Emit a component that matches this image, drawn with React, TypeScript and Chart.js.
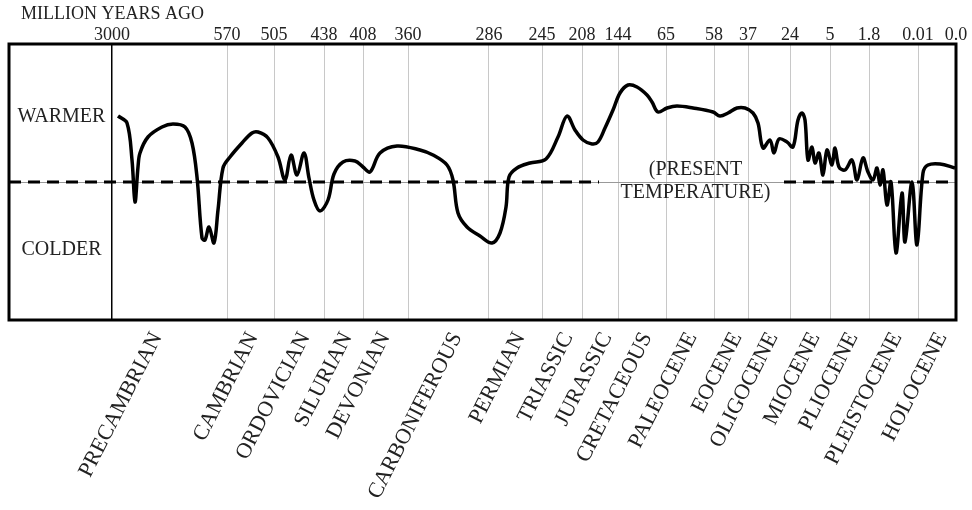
import { useEffect, useRef } from "react"
import { Chart, registerables } from "chart.js"

Chart.register(...registerables)

// Posición de cada límite sobre el eje (no lineal) y su edad en millones de años
const boundaryPos = [103, 218, 265, 315, 354, 399, 480, 533, 573, 609, 657, 705, 739, 781, 821, 860, 909, 947]
const ageLabels = ["3000", "570", "505", "438", "408", "360", "286", "245", "208", "144", "65", "58", "37", "24", "5", "1.8", "0.01", "0.0"]
const periodNames = [
  "PRECAMBRIAN", "CAMBRIAN", "ORDOVICIAN", "SILURIAN", "DEVONIAN", "CARBONIFEROUS", "PERMIAN",
  "TRIASSIC", "JURASSIC", "CRETACEOUS", "PALEOCENE", "EOCENE", "OLIGOCENE", "MIOCENE",
  "PLIOCENE", "PLEISTOCENE", "HOLOCENE",
]
// Dónde queda el final de cada nombre de periodo bajo el eje
const periodPos = [148, 244, 296, 338, 376, 448, 511, 559, 598, 638, 683, 728, 764, 806, 844, 888, 933]

// Curva de temperatura relativa (0 = temperatura actual)
const curveX = [
  109, 118, 123, 126, 129, 131, 139, 153, 164, 176, 183, 188, 193, 196, 200, 205, 209, 214, 221, 233,
  243, 249, 259, 269, 276, 282, 288, 295, 300, 305, 311, 319, 325, 334, 346, 354, 361, 371, 388, 411,
  424, 438, 444, 449, 458, 471, 483, 491, 497, 500, 508, 521, 537, 549, 558, 566, 574, 583, 589, 596,
  604, 611, 619, 628, 638, 643, 649, 658, 668, 684, 704, 711, 719, 728, 736, 744, 749, 754, 761, 765,
  770, 778, 784, 789, 793, 796, 799, 803, 806, 810, 814, 818, 823, 826, 830, 836, 843, 848, 854, 859,
  864, 868, 871, 874, 878, 882, 887, 893, 896, 903, 908, 914, 919, 931, 946,
]
const curveY = [
  66, 59, 22, -20, 15, 29, 45, 55, 58, 55, 39, 5, -56, -58, -45, -61, -28, 14, 25, 39,
  49, 50, 44, 25, 2, 27, 7, 29, 4, -18, -29, -18, 8, 20, 21, 15, 10, 29, 36, 32,
  27, 17, 2, -31, -45, -54, -61, -51, -25, 5, 14, 19, 23, 45, 66, 52, 42, 38, 40, 54,
  72, 89, 97, 95, 87, 80, 70, 74, 76, 74, 70, 66, 69, 74, 74, 69, 59, 34, 42, 29,
  43, 40, 35, 62, 69, 62, 22, 35, 19, 29, 7, 32, 17, 34, 15, 12, 22, 2, 24, 10,
  2, 14, -3, 12, -23, 0, -71, -11, -60, 0, -63, 9, 17, 18, 14,
]

// Línea de la temperatura actual, cortada donde va el texto
const presentX = [0, 590, 595, 775, 947]
const presentY = [0, 0, null, 0, 0]

const textColor = "#222"
const serif = "'Liberation Serif', 'DejaVu Serif', serif"

const labelsPlugin = {
  id: "labelsPlugin",
  afterDraw(chart: Chart) {
    const { ctx, chartArea, scales } = chart
    const x = scales.x
    const y = scales.y
    ctx.save()
    ctx.lineWidth = 3
    ctx.strokeStyle = "#000"
    ctx.strokeRect(chartArea.left, chartArea.top, chartArea.right - chartArea.left, chartArea.bottom - chartArea.top)

    ctx.fillStyle = textColor
    ctx.textBaseline = "middle"
    ctx.font = `18px ${serif}`
    ctx.textAlign = "left"
    ctx.fillText("MILLION YEARS AGO", 21, 14)

    ctx.font = `20px ${serif}`
    ctx.textAlign = "center"
    ctx.fillText("WARMER", x.getPixelForValue(52.5), y.getPixelForValue(65))
    ctx.fillText("COLDER", x.getPixelForValue(52.5), y.getPixelForValue(-67.5))
    ctx.fillText("(PRESENT", x.getPixelForValue(686.5), y.getPixelForValue(12))
    ctx.fillText("TEMPERATURE)", x.getPixelForValue(686.5), y.getPixelForValue(-11))
    ctx.restore()
  },
}

function GeoTempChart() {
  const chartRef = useRef<HTMLCanvasElement>(null)
  const chartInstance = useRef<Chart | null>(null)

  useEffect(() => {
    if (!chartRef.current) return
    if (chartInstance.current) {
      chartInstance.current.destroy()
    }
    const ctx = chartRef.current.getContext("2d")
    if (!ctx) return

    chartInstance.current = new Chart(ctx, {
      type: "line",
      data: {
        datasets: [
          {
            label: "Temperatura",
            data: curveX.map((v, i) => ({ x: v, y: curveY[i] })),
            borderColor: "#000",
            borderWidth: 3.5,
            pointRadius: 0,
            tension: 0.35,
            fill: false,
          },
          {
            label: "Actual",
            data: presentX.map((v, i) => ({ x: v, y: presentY[i] })),
            borderColor: "#000",
            borderWidth: 3,
            borderDash: [12, 7],
            pointRadius: 0,
            tension: 0,
            spanGaps: false,
            fill: false,
          },
        ],
      },
      options: {
        animation: false,
        responsive: true,
        maintainAspectRatio: false,
        layout: { padding: { left: 9, right: 16, top: 0, bottom: 0 } },
        plugins: {
          legend: { display: false },
          tooltip: { enabled: false },
        },
        scales: {
          x: {
            type: "linear",
            position: "bottom",
            min: 0,
            max: 947,
            afterBuildTicks: (s: any) => {
              s.ticks = periodPos.map((v) => ({ value: v }))
            },
            afterFit: (s: any) => {
              s.height = 190
              s.paddingLeft = 0
              s.paddingRight = 0
            },
            grid: { display: false, drawTicks: false },
            border: { display: false },
            ticks: {
              autoSkip: false,
              minRotation: 63,
              maxRotation: 63,
              padding: 8,
              color: textColor,
              font: { family: serif, size: 22 },
              callback: (_v: any, i: number) => periodNames[i],
            },
          },
          xTop: {
            type: "linear",
            position: "top",
            min: 0,
            max: 947,
            afterBuildTicks: (s: any) => {
              s.ticks = boundaryPos.map((v) => ({ value: v }))
            },
            afterFit: (s: any) => {
              s.height = 44
              s.paddingLeft = 0
              s.paddingRight = 0
            },
            grid: {
              drawTicks: false,
              color: (c: any) => (c.index === 0 ? "#000" : "#c8c8c8"),
              lineWidth: (c: any) => (c.index === 0 ? 1.5 : 1),
            },
            border: { display: false },
            ticks: {
              autoSkip: false,
              maxRotation: 0,
              padding: -2,
              color: textColor,
              font: { family: serif, size: 18 },
              callback: (_v: any, i: number) => ageLabels[i],
            },
          },
          y: {
            min: -138,
            max: 138,
            afterBuildTicks: (s: any) => {
              s.ticks = [{ value: 0 }]
            },
            afterFit: (s: any) => {
              s.width = 0
            },
            grid: { drawTicks: false, color: "#999", lineWidth: 1 },
            border: { display: false },
            ticks: { display: false },
          },
        },
      },
      plugins: [labelsPlugin],
    })

    return () => {
      if (chartInstance.current) {
        chartInstance.current.destroy()
        chartInstance.current = null
      }
    }
  }, [])

  return <canvas ref={chartRef} />
}

export default function App() {
  return (
    <div style={{ position: "fixed", left: 0, top: 0, width: 972, height: 510, background: "#fff" }}>
      <GeoTempChart />
    </div>
  )
}
